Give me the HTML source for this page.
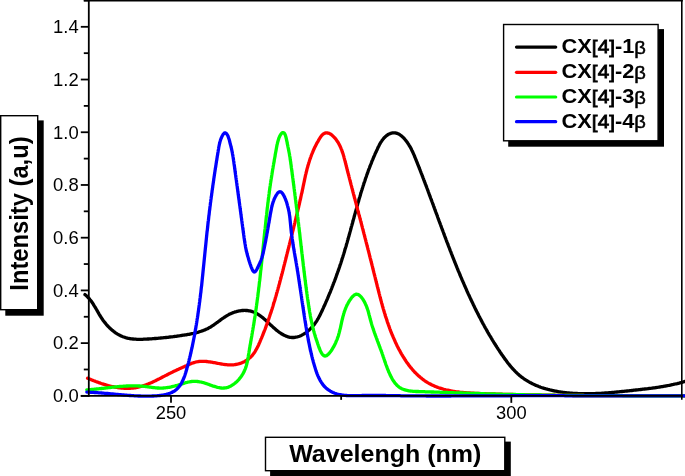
<!DOCTYPE html>
<html><head><meta charset="utf-8"><style>
html,body{margin:0;padding:0;background:#fff;}
svg{display:block;}
text{font-family:"Liberation Sans",sans-serif;}
svg{will-change:transform;}
</style></head><body>
<svg width="685" height="476" viewBox="0 0 685 476">
<rect width="685" height="476" fill="#fff"/>
<path d="M85.0 294.6 L85.8 295.2 L86.5 295.9 L87.2 296.6 L87.9 297.3 L88.6 298.0 L89.3 298.7 L89.9 299.5 L90.5 300.2 L91.1 301.0 L91.7 301.8 L92.2 302.6 L92.8 303.4 L93.3 304.2 L93.8 305.1 L94.3 305.9 L94.9 306.8 L95.4 307.6 L95.9 308.5 L96.4 309.4 L96.9 310.2 L97.4 311.1 L97.9 312.0 L98.4 312.9 L98.9 313.8 L99.4 314.6 L99.9 315.5 L100.5 316.4 L101.0 317.3 L101.6 318.1 L102.2 319.0 L102.8 319.9 L103.4 320.7 L104.0 321.5 L104.7 322.4 L105.4 323.2 L106.0 324.0 L106.7 324.8 L107.4 325.6 L108.1 326.4 L108.9 327.1 L109.6 327.9 L110.4 328.6 L111.1 329.3 L111.9 330.0 L112.7 330.6 L113.5 331.3 L114.3 331.9 L115.1 332.5 L115.9 333.1 L116.8 333.6 L117.6 334.1 L118.5 334.6 L119.3 335.1 L120.2 335.5 L121.1 336.0 L121.9 336.3 L122.8 336.7 L123.7 337.0 L124.6 337.3 L125.5 337.6 L126.4 337.8 L127.4 338.1 L128.3 338.3 L129.2 338.5 L130.1 338.6 L131.1 338.8 L132.0 338.9 L133.0 339.0 L133.9 339.1 L134.9 339.2 L135.8 339.2 L136.8 339.3 L137.8 339.3 L138.8 339.3 L139.7 339.3 L140.7 339.3 L141.7 339.3 L142.7 339.3 L143.7 339.2 L144.7 339.2 L145.7 339.1 L146.7 339.1 L147.7 339.0 L148.7 339.0 L149.7 338.9 L150.7 338.8 L151.7 338.8 L152.7 338.7 L153.7 338.6 L154.7 338.5 L155.8 338.5 L156.8 338.4 L157.8 338.3 L158.8 338.2 L159.8 338.1 L160.8 338.0 L161.9 337.9 L162.9 337.8 L163.9 337.7 L164.9 337.6 L166.0 337.5 L167.0 337.4 L168.0 337.3 L169.0 337.1 L170.0 337.0 L171.0 336.9 L172.1 336.8 L173.1 336.7 L174.1 336.5 L175.1 336.4 L176.1 336.3 L177.1 336.1 L178.1 336.0 L179.1 335.8 L180.1 335.7 L181.1 335.5 L182.1 335.4 L183.1 335.2 L184.1 335.1 L185.1 334.9 L186.1 334.8 L187.0 334.6 L188.0 334.4 L189.0 334.3 L189.9 334.1 L190.9 333.9 L191.9 333.7 L192.8 333.5 L193.8 333.3 L194.7 333.1 L195.7 332.9 L196.6 332.6 L197.5 332.4 L198.5 332.1 L199.4 331.8 L200.3 331.5 L201.2 331.2 L202.1 330.9 L203.0 330.6 L203.9 330.2 L204.8 329.9 L205.7 329.5 L206.6 329.1 L207.5 328.7 L208.4 328.2 L209.2 327.7 L210.1 327.3 L210.9 326.8 L211.8 326.2 L212.6 325.7 L213.5 325.1 L214.3 324.5 L215.2 323.9 L216.0 323.3 L216.8 322.7 L217.7 322.1 L218.5 321.5 L219.3 320.9 L220.2 320.3 L221.0 319.6 L221.8 319.0 L222.7 318.4 L223.6 317.8 L224.4 317.2 L225.3 316.7 L226.2 316.1 L227.0 315.6 L227.9 315.1 L228.8 314.6 L229.8 314.1 L230.7 313.7 L231.6 313.3 L232.5 312.9 L233.5 312.5 L234.4 312.2 L235.4 311.9 L236.4 311.6 L237.3 311.3 L238.3 311.1 L239.3 310.9 L240.2 310.8 L241.2 310.6 L242.2 310.5 L243.1 310.5 L244.1 310.4 L245.1 310.4 L246.0 310.5 L247.0 310.5 L247.9 310.6 L248.8 310.8 L249.8 310.9 L250.7 311.2 L251.6 311.4 L252.5 311.7 L253.4 312.0 L254.3 312.3 L255.2 312.7 L256.0 313.2 L256.9 313.6 L257.7 314.1 L258.5 314.6 L259.3 315.2 L260.2 315.8 L261.0 316.4 L261.8 317.0 L262.6 317.6 L263.4 318.3 L264.1 318.9 L264.9 319.6 L265.7 320.3 L266.5 321.0 L267.3 321.8 L268.0 322.5 L268.8 323.2 L269.6 323.9 L270.4 324.7 L271.2 325.4 L272.0 326.1 L272.8 326.9 L273.5 327.6 L274.4 328.3 L275.2 329.0 L276.0 329.7 L276.8 330.4 L277.6 331.0 L278.5 331.7 L279.3 332.3 L280.2 332.9 L281.1 333.5 L281.9 334.0 L282.8 334.5 L283.7 335.0 L284.6 335.4 L285.5 335.9 L286.4 336.2 L287.3 336.6 L288.2 336.8 L289.2 337.1 L290.1 337.3 L291.0 337.4 L292.0 337.5 L292.9 337.5 L293.9 337.5 L294.8 337.4 L295.8 337.2 L296.7 337.0 L297.7 336.8 L298.6 336.5 L299.5 336.2 L300.5 335.8 L301.4 335.4 L302.3 334.9 L303.2 334.4 L304.0 333.9 L304.9 333.3 L305.7 332.8 L306.5 332.2 L307.3 331.6 L308.1 330.9 L308.9 330.3 L309.6 329.6 L310.3 328.9 L311.0 328.2 L311.7 327.5 L312.4 326.7 L313.0 326.0 L313.7 325.2 L314.3 324.4 L314.9 323.6 L315.4 322.8 L316.0 322.0 L316.6 321.1 L317.1 320.3 L317.6 319.4 L318.1 318.6 L318.6 317.7 L319.1 316.8 L319.6 315.9 L320.0 315.0 L320.5 314.1 L320.9 313.2 L321.3 312.3 L321.8 311.4 L322.2 310.5 L322.6 309.6 L323.0 308.7 L323.4 307.8 L323.8 306.8 L324.3 305.9 L324.7 305.0 L325.1 304.1 L325.5 303.2 L325.9 302.2 L326.3 301.3 L326.7 300.4 L327.1 299.5 L327.5 298.6 L327.9 297.6 L328.3 296.7 L328.6 295.8 L329.0 294.8 L329.4 293.9 L329.8 293.0 L330.2 292.1 L330.6 291.1 L330.9 290.2 L331.3 289.3 L331.7 288.3 L332.0 287.4 L332.4 286.5 L332.8 285.5 L333.1 284.6 L333.5 283.6 L333.8 282.7 L334.2 281.8 L334.6 280.8 L334.9 279.9 L335.3 279.0 L335.6 278.0 L336.0 277.1 L336.3 276.1 L336.6 275.2 L337.0 274.2 L337.3 273.3 L337.6 272.3 L338.0 271.4 L338.3 270.5 L338.6 269.5 L339.0 268.6 L339.3 267.6 L339.6 266.7 L339.9 265.7 L340.2 264.8 L340.6 263.8 L340.9 262.9 L341.2 261.9 L341.5 261.0 L341.8 260.0 L342.1 259.1 L342.4 258.1 L342.7 257.2 L343.0 256.2 L343.3 255.3 L343.6 254.3 L343.9 253.4 L344.2 252.4 L344.5 251.5 L344.7 250.5 L345.0 249.5 L345.3 248.6 L345.6 247.6 L345.9 246.7 L346.2 245.7 L346.4 244.8 L346.7 243.8 L347.0 242.9 L347.3 241.9 L347.5 240.9 L347.8 240.0 L348.1 239.0 L348.3 238.1 L348.6 237.1 L348.9 236.2 L349.1 235.2 L349.4 234.2 L349.7 233.3 L349.9 232.3 L350.2 231.4 L350.5 230.4 L350.7 229.5 L351.0 228.5 L351.2 227.5 L351.5 226.6 L351.8 225.6 L352.0 224.7 L352.3 223.7 L352.6 222.7 L352.8 221.8 L353.1 220.8 L353.3 219.9 L353.6 218.9 L353.9 218.0 L354.1 217.0 L354.4 216.0 L354.6 215.1 L354.9 214.1 L355.2 213.2 L355.4 212.2 L355.7 211.2 L356.0 210.3 L356.2 209.3 L356.5 208.4 L356.8 207.4 L357.0 206.5 L357.3 205.5 L357.6 204.5 L357.8 203.6 L358.1 202.6 L358.4 201.7 L358.7 200.7 L358.9 199.8 L359.2 198.8 L359.5 197.8 L359.8 196.9 L360.1 195.9 L360.4 195.0 L360.6 194.0 L360.9 193.1 L361.2 192.1 L361.5 191.1 L361.8 190.2 L362.1 189.2 L362.4 188.3 L362.7 187.3 L363.0 186.4 L363.3 185.4 L363.6 184.5 L363.9 183.5 L364.2 182.6 L364.6 181.6 L364.9 180.7 L365.2 179.7 L365.5 178.7 L365.8 177.8 L366.2 176.8 L366.5 175.9 L366.8 174.9 L367.2 174.0 L367.5 173.0 L367.9 172.1 L368.2 171.1 L368.5 170.2 L368.9 169.2 L369.3 168.3 L369.6 167.4 L370.0 166.4 L370.3 165.5 L370.7 164.5 L371.1 163.6 L371.5 162.6 L371.8 161.7 L372.2 160.7 L372.6 159.8 L373.0 158.8 L373.4 157.9 L373.8 157.0 L374.2 156.0 L374.6 155.1 L375.0 154.1 L375.4 153.2 L375.9 152.3 L376.3 151.3 L376.7 150.4 L377.2 149.4 L377.6 148.5 L378.0 147.6 L378.5 146.6 L379.0 145.7 L379.4 144.8 L379.9 143.9 L380.4 143.0 L380.9 142.2 L381.5 141.3 L382.0 140.5 L382.6 139.7 L383.2 139.0 L383.8 138.2 L384.5 137.5 L385.2 136.8 L385.9 136.2 L386.6 135.6 L387.4 135.0 L388.2 134.5 L389.0 134.1 L389.9 133.7 L390.7 133.3 L391.6 133.1 L392.5 132.9 L393.4 132.8 L394.4 132.8 L395.3 132.9 L396.2 133.1 L397.1 133.4 L398.0 133.7 L398.8 134.1 L399.7 134.6 L400.5 135.2 L401.3 135.8 L402.1 136.5 L402.9 137.2 L403.6 137.9 L404.3 138.7 L405.0 139.5 L405.7 140.3 L406.4 141.2 L407.0 142.0 L407.6 142.9 L408.2 143.8 L408.8 144.7 L409.3 145.6 L409.9 146.5 L410.4 147.4 L410.9 148.3 L411.4 149.3 L411.8 150.2 L412.3 151.1 L412.7 152.0 L413.1 152.9 L413.5 153.8 L413.9 154.7 L414.3 155.6 L414.6 156.5 L415.0 157.4 L415.4 158.3 L415.8 159.3 L416.1 160.2 L416.5 161.1 L416.9 162.0 L417.2 162.9 L417.6 163.8 L418.0 164.8 L418.3 165.7 L418.7 166.6 L419.1 167.5 L419.4 168.5 L419.8 169.4 L420.2 170.3 L420.5 171.3 L420.9 172.2 L421.2 173.1 L421.6 174.0 L422.0 175.0 L422.3 175.9 L422.7 176.8 L423.0 177.8 L423.4 178.7 L423.7 179.6 L424.1 180.6 L424.4 181.5 L424.8 182.4 L425.1 183.4 L425.5 184.3 L425.9 185.2 L426.2 186.2 L426.6 187.1 L426.9 188.0 L427.3 189.0 L427.6 189.9 L428.0 190.8 L428.3 191.8 L428.6 192.7 L429.0 193.6 L429.3 194.6 L429.7 195.5 L430.0 196.4 L430.4 197.4 L430.7 198.3 L431.1 199.2 L431.4 200.2 L431.8 201.1 L432.1 202.0 L432.5 203.0 L432.8 203.9 L433.2 204.8 L433.5 205.8 L433.8 206.7 L434.2 207.7 L434.5 208.6 L434.9 209.5 L435.2 210.5 L435.6 211.4 L435.9 212.3 L436.3 213.3 L436.6 214.2 L437.0 215.1 L437.3 216.1 L437.6 217.0 L438.0 218.0 L438.3 218.9 L438.7 219.8 L439.0 220.8 L439.4 221.7 L439.7 222.7 L440.1 223.6 L440.4 224.5 L440.8 225.5 L441.1 226.4 L441.5 227.3 L441.8 228.3 L442.2 229.2 L442.5 230.2 L442.9 231.1 L443.2 232.0 L443.6 233.0 L443.9 233.9 L444.3 234.9 L444.6 235.8 L445.0 236.7 L445.3 237.7 L445.7 238.6 L446.0 239.5 L446.4 240.5 L446.7 241.4 L447.1 242.4 L447.5 243.3 L447.8 244.2 L448.2 245.2 L448.5 246.1 L448.9 247.0 L449.3 248.0 L449.6 248.9 L450.0 249.9 L450.3 250.8 L450.7 251.7 L451.1 252.7 L451.4 253.6 L451.8 254.5 L452.2 255.5 L452.5 256.4 L452.9 257.3 L453.3 258.3 L453.6 259.2 L454.0 260.1 L454.4 261.1 L454.7 262.0 L455.1 262.9 L455.5 263.8 L455.9 264.8 L456.2 265.7 L456.6 266.6 L457.0 267.6 L457.4 268.5 L457.7 269.4 L458.1 270.3 L458.5 271.3 L458.9 272.2 L459.3 273.1 L459.7 274.0 L460.0 275.0 L460.4 275.9 L460.8 276.8 L461.2 277.7 L461.6 278.6 L462.0 279.6 L462.4 280.5 L462.8 281.4 L463.2 282.3 L463.6 283.2 L464.0 284.2 L464.4 285.1 L464.8 286.0 L465.2 286.9 L465.6 287.8 L466.0 288.7 L466.4 289.6 L466.8 290.6 L467.2 291.5 L467.6 292.4 L468.0 293.3 L468.4 294.2 L468.9 295.1 L469.3 296.0 L469.7 296.9 L470.1 297.8 L470.5 298.7 L470.9 299.6 L471.4 300.5 L471.8 301.4 L472.2 302.3 L472.7 303.2 L473.1 304.1 L473.5 305.0 L474.0 305.9 L474.4 306.8 L474.8 307.7 L475.3 308.6 L475.7 309.5 L476.1 310.4 L476.6 311.3 L477.0 312.2 L477.5 313.0 L477.9 313.9 L478.4 314.8 L478.8 315.7 L479.3 316.6 L479.8 317.5 L480.2 318.3 L480.7 319.2 L481.1 320.1 L481.6 321.0 L482.1 321.9 L482.5 322.7 L483.0 323.6 L483.5 324.5 L484.0 325.3 L484.4 326.2 L484.9 327.1 L485.4 328.0 L485.9 328.8 L486.4 329.7 L486.9 330.6 L487.3 331.4 L487.8 332.3 L488.3 333.1 L488.8 334.0 L489.3 334.9 L489.8 335.7 L490.4 336.6 L490.9 337.4 L491.4 338.3 L491.9 339.1 L492.4 340.0 L492.9 340.8 L493.5 341.7 L494.0 342.6 L494.5 343.4 L495.0 344.3 L495.6 345.1 L496.1 346.0 L496.7 346.8 L497.2 347.6 L497.8 348.5 L498.3 349.3 L498.9 350.2 L499.4 351.0 L500.0 351.9 L500.6 352.7 L501.1 353.6 L501.7 354.4 L502.3 355.2 L502.9 356.1 L503.5 356.9 L504.1 357.7 L504.6 358.6 L505.2 359.4 L505.9 360.2 L506.5 361.1 L507.1 361.9 L507.7 362.7 L508.3 363.5 L509.0 364.3 L509.6 365.1 L510.2 365.9 L510.9 366.7 L511.6 367.4 L512.2 368.2 L512.9 369.0 L513.6 369.7 L514.3 370.4 L515.0 371.2 L515.7 371.9 L516.4 372.6 L517.1 373.2 L517.8 373.9 L518.6 374.6 L519.3 375.2 L520.1 375.9 L520.9 376.5 L521.6 377.1 L522.4 377.7 L523.2 378.2 L524.0 378.8 L524.8 379.3 L525.6 379.9 L526.5 380.4 L527.3 380.9 L528.1 381.4 L529.0 381.9 L529.8 382.4 L530.7 382.8 L531.6 383.3 L532.4 383.7 L533.3 384.1 L534.2 384.6 L535.1 385.0 L536.0 385.4 L536.9 385.7 L537.8 386.1 L538.7 386.5 L539.7 386.8 L540.6 387.2 L541.5 387.5 L542.5 387.8 L543.4 388.1 L544.3 388.4 L545.3 388.7 L546.3 389.0 L547.2 389.2 L548.2 389.5 L549.1 389.7 L550.1 390.0 L551.1 390.2 L552.1 390.4 L553.0 390.6 L554.0 390.9 L555.0 391.0 L556.0 391.2 L557.0 391.4 L558.0 391.6 L559.0 391.8 L560.0 391.9 L561.0 392.1 L562.0 392.2 L563.0 392.3 L564.0 392.5 L565.0 392.6 L566.0 392.7 L567.0 392.8 L568.0 392.9 L569.0 393.0 L570.0 393.1 L571.0 393.2 L572.0 393.2 L573.0 393.3 L574.0 393.4 L575.0 393.4 L576.0 393.5 L577.0 393.5 L578.0 393.6 L579.0 393.6 L580.0 393.7 L581.0 393.7 L582.1 393.7 L583.1 393.7 L584.1 393.7 L585.1 393.7 L586.1 393.7 L587.1 393.7 L588.1 393.7 L589.1 393.7 L590.1 393.7 L591.1 393.7 L592.1 393.7 L593.1 393.6 L594.1 393.6 L595.1 393.6 L596.1 393.5 L597.1 393.5 L598.1 393.4 L599.1 393.4 L600.1 393.3 L601.1 393.3 L602.1 393.2 L603.1 393.2 L604.1 393.1 L605.1 393.0 L606.1 393.0 L607.1 392.9 L608.1 392.8 L609.1 392.7 L610.1 392.7 L611.1 392.6 L612.1 392.5 L613.1 392.4 L614.0 392.3 L615.0 392.2 L616.0 392.1 L617.0 392.0 L618.0 391.9 L619.0 391.8 L620.0 391.7 L621.0 391.6 L622.0 391.5 L623.0 391.4 L624.0 391.3 L625.0 391.2 L626.0 391.1 L627.0 391.0 L628.0 390.9 L629.0 390.8 L629.9 390.7 L630.9 390.6 L631.9 390.5 L632.9 390.4 L633.9 390.2 L634.9 390.1 L635.9 390.0 L636.9 389.9 L637.9 389.8 L638.9 389.7 L639.9 389.6 L640.8 389.5 L641.8 389.4 L642.8 389.2 L643.8 389.1 L644.8 389.0 L645.8 388.9 L646.8 388.8 L647.8 388.7 L648.7 388.5 L649.7 388.4 L650.7 388.3 L651.7 388.2 L652.7 388.0 L653.7 387.9 L654.7 387.8 L655.6 387.6 L656.6 387.5 L657.6 387.3 L658.6 387.2 L659.6 387.0 L660.6 386.9 L661.5 386.7 L662.5 386.6 L663.5 386.4 L664.5 386.2 L665.5 386.0 L666.4 385.9 L667.4 385.7 L668.4 385.5 L669.4 385.3 L670.4 385.1 L671.3 384.9 L672.3 384.7 L673.3 384.5 L674.3 384.2 L675.3 384.0 L676.2 383.8 L677.2 383.6 L678.2 383.3 L679.2 383.1 L680.1 382.8 L681.1 382.5 L682.1 382.3 L683.1 382.0 L684.1 381.7 L685.0 381.4 L686.0 381.1" stroke="#000" stroke-width="3.3" fill="none" stroke-linejoin="round" stroke-linecap="round"/>
<path d="M87.6 378.2 L88.5 378.6 L89.4 378.9 L90.3 379.3 L91.2 379.7 L92.1 380.1 L93.0 380.4 L93.9 380.8 L94.8 381.1 L95.7 381.5 L96.7 381.8 L97.6 382.2 L98.6 382.5 L99.5 382.9 L100.5 383.2 L101.4 383.5 L102.4 383.8 L103.4 384.1 L104.3 384.4 L105.3 384.7 L106.3 385.0 L107.3 385.3 L108.3 385.6 L109.2 385.8 L110.2 386.1 L111.2 386.3 L112.2 386.5 L113.2 386.7 L114.2 387.0 L115.2 387.1 L116.2 387.3 L117.2 387.5 L118.2 387.6 L119.2 387.8 L120.2 387.9 L121.2 388.0 L122.2 388.1 L123.2 388.2 L124.2 388.3 L125.2 388.3 L126.2 388.3 L127.2 388.3 L128.2 388.3 L129.1 388.3 L130.1 388.3 L131.1 388.2 L132.1 388.1 L133.1 388.0 L134.0 387.9 L135.0 387.8 L136.0 387.6 L136.9 387.4 L137.9 387.3 L138.8 387.0 L139.8 386.8 L140.7 386.5 L141.7 386.3 L142.6 386.0 L143.6 385.7 L144.5 385.4 L145.4 385.0 L146.3 384.7 L147.3 384.4 L148.2 384.0 L149.1 383.6 L150.0 383.2 L151.0 382.8 L151.9 382.4 L152.8 382.0 L153.7 381.6 L154.6 381.1 L155.5 380.7 L156.4 380.2 L157.3 379.8 L158.2 379.3 L159.1 378.9 L160.0 378.4 L160.9 378.0 L161.8 377.5 L162.7 377.0 L163.6 376.6 L164.5 376.1 L165.4 375.6 L166.3 375.2 L167.2 374.7 L168.1 374.2 L169.0 373.8 L169.9 373.3 L170.8 372.9 L171.7 372.4 L172.6 372.0 L173.6 371.5 L174.5 371.1 L175.4 370.7 L176.3 370.3 L177.2 369.8 L178.1 369.4 L179.0 369.0 L179.9 368.6 L180.8 368.1 L181.8 367.7 L182.7 367.3 L183.6 366.9 L184.5 366.5 L185.4 366.1 L186.4 365.7 L187.3 365.2 L188.2 364.8 L189.2 364.4 L190.1 364.0 L191.1 363.6 L192.0 363.2 L193.0 362.9 L193.9 362.6 L194.9 362.3 L195.8 362.0 L196.8 361.8 L197.8 361.7 L198.7 361.5 L199.7 361.4 L200.7 361.4 L201.7 361.3 L202.7 361.3 L203.7 361.3 L204.6 361.4 L205.6 361.4 L206.6 361.5 L207.6 361.6 L208.6 361.8 L209.6 361.9 L210.6 362.0 L211.6 362.2 L212.6 362.4 L213.6 362.6 L214.6 362.7 L215.6 362.9 L216.6 363.1 L217.6 363.3 L218.6 363.5 L219.6 363.7 L220.6 363.9 L221.6 364.0 L222.6 364.2 L223.6 364.3 L224.6 364.5 L225.6 364.6 L226.6 364.7 L227.6 364.8 L228.6 364.8 L229.6 364.9 L230.6 364.9 L231.5 364.9 L232.5 364.9 L233.5 364.8 L234.5 364.7 L235.4 364.5 L236.4 364.4 L237.4 364.2 L238.3 364.0 L239.3 363.7 L240.2 363.4 L241.1 363.1 L242.0 362.7 L242.9 362.3 L243.8 361.9 L244.7 361.5 L245.5 361.0 L246.4 360.5 L247.2 359.9 L248.0 359.4 L248.7 358.8 L249.5 358.1 L250.2 357.5 L250.9 356.8 L251.6 356.1 L252.3 355.3 L252.9 354.6 L253.5 353.8 L254.1 353.0 L254.7 352.1 L255.2 351.3 L255.7 350.4 L256.2 349.5 L256.7 348.6 L257.2 347.7 L257.7 346.8 L258.1 345.9 L258.6 344.9 L259.0 344.0 L259.4 343.0 L259.8 342.1 L260.2 341.1 L260.6 340.2 L261.0 339.2 L261.4 338.3 L261.8 337.3 L262.2 336.4 L262.6 335.4 L263.0 334.5 L263.3 333.5 L263.7 332.6 L264.1 331.7 L264.4 330.7 L264.8 329.8 L265.2 328.8 L265.5 327.9 L265.9 327.0 L266.2 326.0 L266.5 325.1 L266.9 324.2 L267.2 323.2 L267.6 322.3 L267.9 321.4 L268.2 320.4 L268.5 319.5 L268.9 318.6 L269.2 317.6 L269.5 316.7 L269.8 315.7 L270.1 314.8 L270.4 313.9 L270.8 312.9 L271.1 312.0 L271.4 311.1 L271.7 310.1 L272.0 309.2 L272.3 308.2 L272.6 307.3 L272.9 306.4 L273.2 305.4 L273.4 304.5 L273.7 303.5 L274.0 302.6 L274.3 301.6 L274.6 300.7 L274.9 299.7 L275.2 298.8 L275.4 297.8 L275.7 296.9 L276.0 295.9 L276.3 295.0 L276.5 294.0 L276.8 293.1 L277.1 292.1 L277.3 291.1 L277.6 290.2 L277.9 289.2 L278.1 288.3 L278.4 287.3 L278.7 286.4 L278.9 285.4 L279.2 284.4 L279.5 283.5 L279.7 282.5 L280.0 281.5 L280.2 280.6 L280.5 279.6 L280.7 278.7 L281.0 277.7 L281.2 276.7 L281.5 275.8 L281.8 274.8 L282.0 273.8 L282.3 272.9 L282.5 271.9 L282.8 270.9 L283.0 269.9 L283.3 269.0 L283.5 268.0 L283.7 267.0 L284.0 266.1 L284.2 265.1 L284.5 264.1 L284.7 263.1 L285.0 262.2 L285.2 261.2 L285.5 260.2 L285.7 259.3 L286.0 258.3 L286.2 257.3 L286.5 256.3 L286.7 255.4 L286.9 254.4 L287.2 253.4 L287.4 252.4 L287.7 251.5 L287.9 250.5 L288.2 249.5 L288.4 248.5 L288.7 247.6 L288.9 246.6 L289.1 245.6 L289.4 244.6 L289.6 243.6 L289.9 242.7 L290.1 241.7 L290.4 240.7 L290.6 239.7 L290.9 238.8 L291.1 237.8 L291.4 236.8 L291.6 235.8 L291.8 234.9 L292.1 233.9 L292.3 232.9 L292.6 231.9 L292.8 231.0 L293.1 230.0 L293.3 229.0 L293.6 228.0 L293.8 227.0 L294.0 226.1 L294.3 225.1 L294.5 224.1 L294.8 223.1 L295.0 222.2 L295.2 221.2 L295.5 220.2 L295.7 219.2 L295.9 218.3 L296.2 217.3 L296.4 216.3 L296.7 215.3 L296.9 214.4 L297.1 213.4 L297.3 212.4 L297.6 211.5 L297.8 210.5 L298.0 209.5 L298.3 208.5 L298.5 207.6 L298.7 206.6 L298.9 205.6 L299.2 204.7 L299.4 203.7 L299.6 202.7 L299.8 201.8 L300.0 200.8 L300.3 199.8 L300.5 198.9 L300.7 197.9 L300.9 196.9 L301.1 196.0 L301.3 195.0 L301.5 194.0 L301.8 193.1 L302.0 192.1 L302.2 191.1 L302.4 190.2 L302.6 189.2 L302.8 188.3 L303.0 187.3 L303.2 186.3 L303.4 185.4 L303.6 184.4 L303.8 183.5 L304.0 182.5 L304.2 181.6 L304.4 180.6 L304.6 179.6 L304.8 178.7 L305.0 177.7 L305.2 176.8 L305.4 175.8 L305.6 174.9 L305.9 173.9 L306.1 172.9 L306.3 172.0 L306.6 171.0 L306.8 170.1 L307.0 169.1 L307.3 168.1 L307.6 167.2 L307.8 166.2 L308.1 165.2 L308.4 164.3 L308.7 163.3 L309.0 162.3 L309.3 161.4 L309.6 160.4 L309.9 159.4 L310.3 158.4 L310.6 157.5 L311.0 156.5 L311.3 155.5 L311.7 154.5 L312.1 153.5 L312.5 152.6 L312.9 151.6 L313.3 150.6 L313.8 149.6 L314.2 148.6 L314.7 147.6 L315.1 146.7 L315.6 145.7 L316.1 144.7 L316.6 143.7 L317.2 142.7 L317.7 141.8 L318.3 140.8 L318.8 139.8 L319.4 138.8 L320.0 137.9 L320.6 137.0 L321.3 136.1 L321.9 135.3 L322.6 134.6 L323.3 134.0 L324.0 133.6 L324.7 133.2 L325.4 133.0 L326.1 132.9 L326.9 132.9 L327.6 133.0 L328.4 133.2 L329.2 133.4 L329.9 133.8 L330.7 134.2 L331.4 134.7 L332.1 135.3 L332.8 135.9 L333.5 136.6 L334.2 137.3 L334.9 138.0 L335.5 138.8 L336.1 139.6 L336.7 140.4 L337.3 141.2 L337.8 142.1 L338.4 142.9 L338.8 143.8 L339.3 144.7 L339.8 145.6 L340.2 146.5 L340.6 147.4 L341.0 148.3 L341.4 149.3 L341.8 150.2 L342.1 151.2 L342.4 152.2 L342.8 153.2 L343.1 154.1 L343.4 155.1 L343.7 156.1 L344.0 157.1 L344.2 158.1 L344.5 159.1 L344.8 160.2 L345.1 161.2 L345.3 162.2 L345.6 163.2 L345.8 164.2 L346.1 165.2 L346.3 166.2 L346.6 167.2 L346.8 168.2 L347.1 169.2 L347.3 170.2 L347.6 171.2 L347.8 172.2 L348.1 173.2 L348.4 174.2 L348.6 175.2 L348.9 176.1 L349.1 177.1 L349.4 178.1 L349.6 179.1 L349.9 180.1 L350.1 181.0 L350.4 182.0 L350.6 183.0 L350.9 184.0 L351.1 184.9 L351.4 185.9 L351.7 186.9 L351.9 187.9 L352.2 188.8 L352.4 189.8 L352.7 190.8 L352.9 191.7 L353.2 192.7 L353.4 193.6 L353.7 194.6 L353.9 195.6 L354.2 196.5 L354.4 197.5 L354.7 198.4 L355.0 199.4 L355.2 200.4 L355.5 201.3 L355.7 202.3 L356.0 203.2 L356.2 204.2 L356.5 205.1 L356.7 206.1 L357.0 207.1 L357.2 208.0 L357.5 209.0 L357.7 209.9 L358.0 210.9 L358.2 211.8 L358.5 212.8 L358.7 213.7 L359.0 214.7 L359.2 215.7 L359.5 216.6 L359.8 217.6 L360.0 218.5 L360.3 219.5 L360.5 220.4 L360.8 221.4 L361.0 222.3 L361.3 223.3 L361.5 224.3 L361.8 225.2 L362.0 226.2 L362.3 227.1 L362.5 228.1 L362.8 229.1 L363.0 230.0 L363.3 231.0 L363.5 232.0 L363.8 232.9 L364.0 233.9 L364.3 234.8 L364.5 235.8 L364.8 236.8 L365.0 237.7 L365.3 238.7 L365.5 239.7 L365.8 240.6 L366.0 241.6 L366.3 242.6 L366.5 243.6 L366.8 244.5 L367.0 245.5 L367.3 246.5 L367.5 247.4 L367.8 248.4 L368.0 249.4 L368.3 250.3 L368.5 251.3 L368.8 252.3 L369.0 253.3 L369.3 254.2 L369.5 255.2 L369.7 256.2 L370.0 257.1 L370.2 258.1 L370.5 259.1 L370.7 260.1 L371.0 261.0 L371.2 262.0 L371.5 263.0 L371.7 264.0 L372.0 264.9 L372.2 265.9 L372.5 266.9 L372.7 267.9 L372.9 268.8 L373.2 269.8 L373.4 270.8 L373.7 271.8 L373.9 272.7 L374.2 273.7 L374.4 274.7 L374.7 275.7 L374.9 276.6 L375.2 277.6 L375.4 278.6 L375.6 279.6 L375.9 280.5 L376.1 281.5 L376.4 282.5 L376.6 283.5 L376.9 284.4 L377.1 285.4 L377.3 286.4 L377.6 287.3 L377.8 288.3 L378.1 289.3 L378.3 290.3 L378.6 291.2 L378.8 292.2 L379.1 293.2 L379.3 294.1 L379.6 295.1 L379.8 296.1 L380.1 297.1 L380.3 298.0 L380.6 299.0 L380.8 300.0 L381.1 300.9 L381.4 301.9 L381.6 302.9 L381.9 303.8 L382.2 304.8 L382.4 305.7 L382.7 306.7 L383.0 307.7 L383.2 308.6 L383.5 309.6 L383.8 310.5 L384.1 311.5 L384.4 312.5 L384.7 313.4 L385.0 314.4 L385.2 315.3 L385.5 316.3 L385.8 317.2 L386.2 318.2 L386.5 319.1 L386.8 320.1 L387.1 321.0 L387.4 322.0 L387.7 322.9 L388.1 323.8 L388.4 324.8 L388.7 325.7 L389.1 326.7 L389.4 327.6 L389.7 328.5 L390.1 329.5 L390.4 330.4 L390.8 331.3 L391.2 332.3 L391.5 333.2 L391.9 334.1 L392.3 335.0 L392.7 335.9 L393.1 336.9 L393.5 337.8 L393.9 338.7 L394.3 339.6 L394.7 340.5 L395.1 341.4 L395.5 342.4 L395.9 343.3 L396.4 344.2 L396.8 345.1 L397.2 346.0 L397.7 346.9 L398.1 347.8 L398.6 348.7 L399.1 349.6 L399.6 350.4 L400.0 351.3 L400.5 352.2 L401.0 353.1 L401.5 354.0 L402.0 354.8 L402.5 355.7 L403.1 356.6 L403.6 357.4 L404.1 358.3 L404.7 359.1 L405.2 360.0 L405.8 360.8 L406.3 361.6 L406.9 362.5 L407.5 363.3 L408.1 364.1 L408.7 364.9 L409.3 365.7 L409.9 366.5 L410.5 367.3 L411.2 368.0 L411.8 368.8 L412.4 369.5 L413.1 370.3 L413.8 371.0 L414.4 371.8 L415.1 372.5 L415.8 373.2 L416.5 373.9 L417.2 374.6 L417.9 375.2 L418.7 375.9 L419.4 376.5 L420.1 377.2 L420.9 377.8 L421.7 378.4 L422.4 379.0 L423.2 379.6 L424.0 380.2 L424.8 380.8 L425.6 381.3 L426.4 381.8 L427.3 382.4 L428.1 382.9 L429.0 383.4 L429.8 383.8 L430.7 384.3 L431.6 384.8 L432.5 385.2 L433.4 385.6 L434.3 386.0 L435.2 386.4 L436.2 386.8 L437.1 387.1 L438.1 387.5 L439.0 387.8 L440.0 388.1 L441.0 388.4 L441.9 388.7 L442.9 389.0 L443.9 389.3 L444.9 389.5 L445.9 389.8 L446.9 390.0 L447.9 390.2 L448.9 390.4 L449.9 390.6 L450.9 390.8 L451.9 391.0 L452.9 391.2 L453.9 391.3 L454.9 391.5 L455.9 391.7 L456.9 391.8 L457.9 391.9 L458.9 392.0 L459.9 392.2 L460.9 392.3 L461.9 392.4 L462.9 392.5 L463.9 392.6 L464.9 392.7 L465.9 392.7 L466.9 392.8 L467.9 392.9 L468.9 393.0 L469.9 393.0 L470.9 393.1 L471.9 393.1 L472.8 393.2 L473.8 393.2 L474.8 393.3 L475.8 393.3 L476.8 393.4 L477.8 393.4 L478.8 393.5 L479.8 393.5 L480.8 393.6 L481.8 393.6 L482.8 393.6 L483.8 393.7 L484.8 393.7 L485.7 393.7 L486.7 393.8 L487.7 393.8 L488.7 393.8 L489.7 393.9 L490.7 393.9 L491.7 393.9 L492.7 394.0 L493.7 394.0 L494.7 394.0 L495.7 394.1 L496.7 394.1 L497.7 394.1 L498.7 394.2 L499.7 394.2 L500.7 394.2 L501.7 394.2 L502.7 394.3 L503.7 394.3 L504.7 394.3 L505.7 394.4 L506.7 394.4 L507.7 394.4 L508.7 394.4 L509.7 394.5 L510.7 394.5 L511.7 394.5 L512.7 394.5 L513.7 394.6 L514.7 394.6 L515.7 394.6 L516.7 394.6 L517.7 394.6 L518.7 394.7 L519.7 394.7 L520.7 394.7 L521.7 394.7 L522.7 394.7 L523.7 394.8 L524.7 394.8 L525.7 394.8 L526.7 394.8 L527.7 394.8 L528.7 394.9 L529.7 394.9 L530.7 394.9 L531.7 394.9 L532.7 394.9 L533.7 394.9 L534.7 395.0 L535.7 395.0 L536.7 395.0 L537.7 395.0 L538.7 395.0 L539.7 395.0 L540.8 395.1 L541.8 395.1 L542.8 395.1 L543.8 395.1 L544.8 395.1 L545.8 395.1 L546.8 395.1 L547.8 395.2 L548.8 395.2 L549.8 395.2 L550.8 395.2 L551.8 395.2 L552.8 395.2 L553.8 395.2 L554.8 395.2 L555.8 395.3 L556.8 395.3 L557.8 395.3 L558.8 395.3 L559.8 395.3 L560.8 395.3 L561.8 395.3 L562.8 395.3 L563.8 395.4 L564.8 395.4 L565.8 395.4 L566.8 395.4 L567.8 395.4 L568.8 395.4 L569.8 395.4 L570.8 395.4 L571.8 395.4 L572.8 395.5 L573.8 395.5 L574.8 395.5 L575.8 395.5 L576.8 395.5 L577.8 395.5 L578.8 395.5 L579.8 395.5 L580.8 395.5 L581.8 395.5 L582.8 395.5 L583.8 395.5 L584.8 395.6 L585.8 395.6 L586.8 395.6 L587.8 395.6 L588.8 395.6 L589.8 395.6 L590.8 395.6 L591.8 395.6 L592.8 395.6 L593.8 395.6 L594.8 395.6 L595.8 395.6 L596.8 395.6 L597.8 395.6 L598.8 395.6 L599.8 395.6 L600.8 395.6 L601.8 395.6 L602.7 395.7 L603.7 395.7 L604.7 395.7 L605.7 395.7 L606.7 395.7 L607.7 395.7 L608.7 395.7 L609.7 395.7 L610.7 395.7 L611.7 395.7 L612.7 395.7 L613.7 395.7 L614.7 395.7 L615.7 395.7 L616.7 395.7 L617.7 395.7 L618.7 395.7 L619.7 395.7 L620.7 395.7 L621.7 395.7 L622.7 395.7 L623.7 395.7 L624.7 395.7 L625.7 395.7 L626.7 395.7 L627.7 395.7 L628.7 395.7 L629.7 395.7 L630.7 395.7 L631.7 395.7 L632.7 395.7 L633.7 395.7 L634.7 395.7 L635.7 395.7 L636.7 395.7 L637.7 395.7 L638.7 395.7 L639.7 395.7 L640.7 395.7 L641.7 395.7 L642.7 395.7 L643.7 395.7 L644.7 395.7 L645.7 395.7 L646.7 395.7 L647.7 395.7 L648.7 395.7 L649.7 395.7 L650.7 395.7 L651.7 395.7 L652.7 395.7 L653.7 395.7 L654.7 395.7 L655.7 395.7 L656.7 395.7 L657.7 395.7 L658.7 395.7 L659.7 395.7 L660.7 395.7 L661.7 395.7 L662.7 395.7 L663.7 395.7 L664.7 395.7 L665.7 395.7 L666.7 395.7 L667.7 395.7 L668.7 395.7 L669.7 395.7 L670.7 395.7 L671.7 395.7 L672.7 395.7 L673.7 395.7 L674.7 395.7 L675.7 395.7 L676.7 395.7 L677.7 395.7 L678.7 395.7 L679.7 395.7 L680.7 395.7 L681.7 395.8 L682.7 395.8 L683.7 395.8 L684.7 395.8 L685.7 395.8" stroke="#f00" stroke-width="3.3" fill="none" stroke-linejoin="round" stroke-linecap="round"/>
<path d="M86.8 389.9 L87.8 389.8 L88.7 389.8 L89.7 389.7 L90.7 389.6 L91.7 389.5 L92.7 389.4 L93.6 389.3 L94.6 389.2 L95.6 389.1 L96.6 389.0 L97.6 388.9 L98.6 388.8 L99.6 388.7 L100.5 388.6 L101.5 388.5 L102.5 388.4 L103.5 388.3 L104.5 388.1 L105.5 388.0 L106.5 387.9 L107.5 387.8 L108.5 387.7 L109.5 387.6 L110.5 387.5 L111.5 387.3 L112.5 387.2 L113.6 387.1 L114.6 387.0 L115.6 386.9 L116.6 386.8 L117.6 386.7 L118.6 386.6 L119.6 386.5 L120.6 386.4 L121.6 386.4 L122.6 386.3 L123.6 386.2 L124.6 386.2 L125.6 386.1 L126.6 386.0 L127.7 386.0 L128.7 385.9 L129.7 385.9 L130.7 385.9 L131.7 385.9 L132.7 385.9 L133.7 385.9 L134.7 385.9 L135.7 385.9 L136.7 385.9 L137.7 385.9 L138.7 386.0 L139.7 386.0 L140.7 386.1 L141.7 386.2 L142.7 386.2 L143.7 386.3 L144.7 386.4 L145.7 386.5 L146.7 386.7 L147.7 386.8 L148.6 386.9 L149.6 387.1 L150.6 387.2 L151.6 387.3 L152.6 387.5 L153.6 387.6 L154.5 387.7 L155.5 387.8 L156.5 387.9 L157.5 388.0 L158.5 388.0 L159.5 388.1 L160.4 388.1 L161.4 388.1 L162.4 388.1 L163.4 388.0 L164.3 387.9 L165.3 387.8 L166.3 387.7 L167.3 387.6 L168.2 387.4 L169.2 387.3 L170.2 387.1 L171.2 386.9 L172.1 386.6 L173.1 386.4 L174.1 386.2 L175.1 385.9 L176.0 385.6 L177.0 385.4 L178.0 385.1 L178.9 384.8 L179.9 384.5 L180.9 384.2 L181.9 383.9 L182.8 383.6 L183.8 383.3 L184.8 383.0 L185.8 382.7 L186.8 382.5 L187.7 382.2 L188.7 382.0 L189.7 381.8 L190.7 381.6 L191.6 381.5 L192.6 381.4 L193.6 381.3 L194.6 381.3 L195.6 381.3 L196.6 381.4 L197.5 381.5 L198.5 381.6 L199.5 381.8 L200.5 382.0 L201.5 382.2 L202.5 382.5 L203.5 382.7 L204.5 383.0 L205.5 383.3 L206.5 383.7 L207.5 384.0 L208.5 384.3 L209.5 384.7 L210.5 385.1 L211.5 385.4 L212.4 385.8 L213.4 386.1 L214.4 386.4 L215.4 386.7 L216.4 387.0 L217.4 387.3 L218.3 387.5 L219.3 387.7 L220.2 387.9 L221.2 388.0 L222.1 388.1 L223.1 388.1 L224.0 388.0 L224.9 387.9 L225.8 387.8 L226.7 387.6 L227.6 387.4 L228.5 387.1 L229.3 386.7 L230.2 386.3 L231.0 385.9 L231.8 385.4 L232.6 384.9 L233.4 384.4 L234.2 383.8 L235.0 383.2 L235.7 382.6 L236.4 382.0 L237.1 381.3 L237.8 380.6 L238.5 379.9 L239.2 379.1 L239.8 378.3 L240.4 377.6 L241.0 376.8 L241.6 375.9 L242.1 375.1 L242.7 374.2 L243.2 373.4 L243.6 372.5 L244.1 371.6 L244.5 370.7 L244.9 369.7 L245.3 368.8 L245.6 367.9 L246.0 366.9 L246.3 365.9 L246.5 365.0 L246.8 364.0 L247.0 363.0 L247.3 362.0 L247.5 361.0 L247.7 360.0 L247.8 359.0 L248.0 358.0 L248.2 357.0 L248.3 356.0 L248.5 355.0 L248.7 354.0 L248.9 353.0 L249.0 352.0 L249.2 351.0 L249.4 349.9 L249.5 348.9 L249.7 347.9 L249.9 346.9 L250.0 345.9 L250.2 344.9 L250.4 343.9 L250.6 342.9 L250.7 341.9 L250.9 340.9 L251.1 339.9 L251.2 339.0 L251.4 338.0 L251.6 337.0 L251.8 336.0 L251.9 335.0 L252.1 334.0 L252.3 333.0 L252.4 332.0 L252.6 331.0 L252.8 330.0 L252.9 329.0 L253.1 328.0 L253.3 327.0 L253.4 326.1 L253.6 325.1 L253.8 324.1 L253.9 323.1 L254.1 322.1 L254.2 321.1 L254.4 320.1 L254.5 319.1 L254.7 318.1 L254.9 317.2 L255.0 316.2 L255.2 315.2 L255.3 314.2 L255.4 313.2 L255.6 312.2 L255.7 311.3 L255.9 310.3 L256.0 309.3 L256.2 308.3 L256.3 307.3 L256.4 306.3 L256.6 305.3 L256.7 304.4 L256.8 303.4 L257.0 302.4 L257.1 301.4 L257.2 300.4 L257.4 299.4 L257.5 298.5 L257.6 297.5 L257.8 296.5 L257.9 295.5 L258.0 294.5 L258.1 293.5 L258.2 292.6 L258.4 291.6 L258.5 290.6 L258.6 289.6 L258.7 288.6 L258.8 287.6 L259.0 286.6 L259.1 285.7 L259.2 284.7 L259.3 283.7 L259.4 282.7 L259.5 281.7 L259.7 280.7 L259.8 279.7 L259.9 278.7 L260.0 277.8 L260.1 276.8 L260.2 275.8 L260.3 274.8 L260.4 273.8 L260.5 272.8 L260.6 271.8 L260.7 270.8 L260.9 269.8 L261.0 268.9 L261.1 267.9 L261.2 266.9 L261.3 265.9 L261.4 264.9 L261.5 263.9 L261.6 262.9 L261.7 261.9 L261.8 260.9 L261.9 259.9 L262.0 258.9 L262.1 257.9 L262.2 256.9 L262.3 255.9 L262.4 254.9 L262.5 254.0 L262.6 253.0 L262.7 252.0 L262.8 251.0 L262.9 250.0 L263.0 249.0 L263.1 248.0 L263.2 247.0 L263.3 246.0 L263.4 245.0 L263.5 244.0 L263.6 243.0 L263.7 242.0 L263.8 241.0 L263.9 240.0 L264.0 239.0 L264.1 238.0 L264.2 237.0 L264.3 236.0 L264.4 235.0 L264.5 234.0 L264.6 233.0 L264.7 232.0 L264.8 231.0 L264.9 230.0 L265.1 229.0 L265.2 228.0 L265.3 227.0 L265.4 226.0 L265.5 225.0 L265.6 224.0 L265.7 223.0 L265.8 222.0 L265.9 221.0 L266.0 220.0 L266.1 219.0 L266.2 218.0 L266.3 217.0 L266.4 216.0 L266.6 215.0 L266.7 214.0 L266.8 213.0 L266.9 212.0 L267.0 211.0 L267.1 210.0 L267.2 208.9 L267.3 207.9 L267.5 206.9 L267.6 205.9 L267.7 204.9 L267.8 203.9 L267.9 202.9 L268.1 201.9 L268.2 200.9 L268.3 200.0 L268.4 199.0 L268.5 198.0 L268.7 197.0 L268.8 196.0 L268.9 195.0 L269.1 194.0 L269.2 193.0 L269.3 192.0 L269.4 191.1 L269.6 190.1 L269.7 189.1 L269.8 188.1 L270.0 187.2 L270.1 186.2 L270.3 185.2 L270.4 184.3 L270.5 183.3 L270.7 182.3 L270.8 181.4 L271.0 180.4 L271.1 179.5 L271.3 178.5 L271.4 177.6 L271.6 176.6 L271.7 175.7 L271.9 174.7 L272.0 173.8 L272.2 172.8 L272.3 171.8 L272.5 170.9 L272.6 169.9 L272.8 169.0 L273.0 168.0 L273.1 167.0 L273.3 166.0 L273.5 165.0 L273.6 164.1 L273.8 163.1 L274.0 162.1 L274.2 161.1 L274.3 160.0 L274.5 159.0 L274.7 158.0 L274.9 157.0 L275.1 155.9 L275.2 154.9 L275.4 153.8 L275.6 152.7 L275.8 151.7 L276.0 150.6 L276.2 149.5 L276.4 148.4 L276.6 147.2 L276.8 146.1 L277.0 145.0 L277.3 143.9 L277.5 142.9 L277.8 141.8 L278.1 140.8 L278.4 139.8 L278.7 138.8 L279.0 137.8 L279.4 136.9 L279.8 136.1 L280.2 135.3 L280.7 134.5 L281.1 133.9 L281.6 133.4 L282.0 133.0 L282.5 132.7 L283.0 132.6 L283.4 132.6 L283.9 132.9 L284.4 133.3 L284.8 134.0 L285.2 134.8 L285.6 136.0 L286.0 137.3 L286.3 138.7 L286.6 140.2 L287.0 141.7 L287.2 143.2 L287.5 144.6 L287.8 145.9 L288.0 147.1 L288.3 148.3 L288.5 149.4 L288.7 150.4 L288.9 151.5 L289.1 152.5 L289.3 153.5 L289.5 154.5 L289.6 155.5 L289.8 156.5 L290.0 157.4 L290.1 158.4 L290.2 159.4 L290.4 160.3 L290.5 161.3 L290.7 162.3 L290.8 163.2 L290.9 164.2 L291.1 165.1 L291.2 166.1 L291.3 167.0 L291.4 168.0 L291.6 169.0 L291.7 169.9 L291.8 170.9 L292.0 171.9 L292.1 172.8 L292.2 173.8 L292.3 174.8 L292.5 175.8 L292.6 176.7 L292.7 177.7 L292.9 178.7 L293.0 179.7 L293.1 180.6 L293.2 181.6 L293.4 182.6 L293.5 183.6 L293.6 184.6 L293.8 185.6 L293.9 186.6 L294.0 187.5 L294.1 188.5 L294.3 189.5 L294.4 190.5 L294.5 191.5 L294.7 192.5 L294.8 193.5 L294.9 194.5 L295.0 195.5 L295.2 196.5 L295.3 197.5 L295.4 198.5 L295.5 199.5 L295.7 200.5 L295.8 201.5 L295.9 202.5 L296.0 203.5 L296.2 204.5 L296.3 205.5 L296.4 206.5 L296.5 207.5 L296.7 208.5 L296.8 209.5 L296.9 210.5 L297.0 211.5 L297.2 212.5 L297.3 213.5 L297.4 214.5 L297.5 215.5 L297.6 216.5 L297.8 217.5 L297.9 218.5 L298.0 219.5 L298.1 220.5 L298.2 221.5 L298.4 222.5 L298.5 223.5 L298.6 224.5 L298.7 225.5 L298.8 226.5 L299.0 227.5 L299.1 228.5 L299.2 229.5 L299.3 230.5 L299.4 231.5 L299.5 232.4 L299.7 233.4 L299.8 234.4 L299.9 235.4 L300.0 236.4 L300.1 237.4 L300.2 238.4 L300.3 239.4 L300.5 240.4 L300.6 241.4 L300.7 242.4 L300.8 243.3 L300.9 244.3 L301.0 245.3 L301.1 246.3 L301.3 247.3 L301.4 248.3 L301.5 249.3 L301.6 250.3 L301.7 251.2 L301.8 252.2 L301.9 253.2 L302.1 254.2 L302.2 255.2 L302.3 256.2 L302.4 257.1 L302.5 258.1 L302.6 259.1 L302.7 260.1 L302.9 261.1 L303.0 262.1 L303.1 263.1 L303.2 264.0 L303.3 265.0 L303.4 266.0 L303.6 267.0 L303.7 268.0 L303.8 269.0 L303.9 269.9 L304.0 270.9 L304.1 271.9 L304.3 272.9 L304.4 273.9 L304.5 274.9 L304.6 275.9 L304.7 276.9 L304.9 277.8 L305.0 278.8 L305.1 279.8 L305.2 280.8 L305.4 281.8 L305.5 282.8 L305.6 283.8 L305.7 284.8 L305.9 285.8 L306.0 286.8 L306.1 287.8 L306.3 288.8 L306.4 289.7 L306.5 290.7 L306.7 291.7 L306.8 292.7 L306.9 293.7 L307.1 294.7 L307.2 295.7 L307.3 296.7 L307.5 297.7 L307.6 298.7 L307.8 299.8 L307.9 300.8 L308.1 301.8 L308.2 302.8 L308.4 303.8 L308.5 304.8 L308.7 305.8 L308.8 306.8 L309.0 307.8 L309.1 308.8 L309.3 309.8 L309.5 310.8 L309.6 311.7 L309.8 312.7 L310.0 313.7 L310.2 314.7 L310.3 315.7 L310.5 316.7 L310.7 317.6 L310.9 318.6 L311.1 319.6 L311.3 320.6 L311.5 321.5 L311.7 322.5 L311.9 323.4 L312.1 324.4 L312.3 325.3 L312.6 326.3 L312.8 327.2 L313.0 328.2 L313.2 329.1 L313.5 330.0 L313.7 330.9 L314.0 331.8 L314.2 332.7 L314.5 333.7 L314.8 334.6 L315.0 335.5 L315.3 336.5 L315.6 337.4 L315.9 338.4 L316.2 339.4 L316.6 340.4 L316.9 341.4 L317.3 342.4 L317.6 343.5 L318.0 344.6 L318.4 345.8 L318.8 346.9 L319.2 348.0 L319.7 349.2 L320.1 350.2 L320.6 351.3 L321.1 352.2 L321.6 353.1 L322.1 353.9 L322.6 354.6 L323.2 355.2 L323.8 355.6 L324.4 355.9 L325.0 356.0 L325.7 355.9 L326.4 355.7 L327.1 355.3 L327.7 354.8 L328.4 354.2 L329.1 353.4 L329.8 352.6 L330.5 351.7 L331.2 350.8 L331.9 349.8 L332.5 348.7 L333.1 347.7 L333.7 346.7 L334.2 345.7 L334.7 344.7 L335.2 343.7 L335.7 342.7 L336.1 341.7 L336.5 340.7 L336.9 339.8 L337.3 338.8 L337.6 337.8 L338.0 336.9 L338.3 336.0 L338.6 335.0 L338.8 334.1 L339.1 333.1 L339.3 332.2 L339.6 331.3 L339.8 330.3 L340.0 329.4 L340.3 328.5 L340.5 327.5 L340.7 326.6 L340.9 325.6 L341.1 324.7 L341.3 323.8 L341.5 322.8 L341.7 321.9 L341.9 320.9 L342.1 320.0 L342.4 319.0 L342.6 318.1 L342.8 317.1 L343.1 316.1 L343.4 315.2 L343.6 314.2 L343.9 313.3 L344.2 312.3 L344.5 311.3 L344.9 310.4 L345.2 309.4 L345.6 308.5 L346.0 307.5 L346.4 306.5 L346.8 305.6 L347.3 304.6 L347.8 303.7 L348.3 302.7 L348.8 301.8 L349.4 300.8 L350.0 299.9 L350.7 299.0 L351.3 298.1 L352.0 297.2 L352.7 296.5 L353.4 295.8 L354.2 295.2 L354.9 294.7 L355.7 294.4 L356.4 294.2 L357.2 294.3 L357.9 294.4 L358.7 294.8 L359.4 295.3 L360.1 295.9 L360.8 296.6 L361.5 297.4 L362.2 298.3 L362.8 299.2 L363.4 300.2 L364.0 301.2 L364.6 302.2 L365.1 303.2 L365.5 304.2 L366.0 305.2 L366.4 306.2 L366.8 307.2 L367.1 308.2 L367.5 309.1 L367.8 310.1 L368.1 311.1 L368.4 312.0 L368.6 313.0 L368.9 313.9 L369.1 314.9 L369.4 315.8 L369.6 316.8 L369.9 317.7 L370.1 318.7 L370.4 319.6 L370.6 320.6 L370.9 321.5 L371.2 322.5 L371.4 323.4 L371.7 324.4 L372.0 325.3 L372.3 326.3 L372.6 327.2 L372.9 328.1 L373.2 329.1 L373.6 330.0 L373.9 331.0 L374.2 331.9 L374.5 332.8 L374.9 333.8 L375.2 334.7 L375.5 335.7 L375.9 336.6 L376.2 337.5 L376.6 338.5 L376.9 339.4 L377.3 340.4 L377.6 341.3 L378.0 342.2 L378.3 343.2 L378.7 344.1 L379.0 345.1 L379.4 346.0 L379.7 346.9 L380.1 347.9 L380.4 348.8 L380.8 349.7 L381.1 350.7 L381.5 351.6 L381.8 352.6 L382.1 353.5 L382.5 354.5 L382.8 355.4 L383.1 356.3 L383.4 357.3 L383.8 358.2 L384.1 359.2 L384.4 360.1 L384.7 361.0 L385.0 362.0 L385.4 362.9 L385.7 363.9 L386.0 364.8 L386.4 365.7 L386.7 366.7 L387.1 367.6 L387.4 368.6 L387.8 369.5 L388.2 370.4 L388.5 371.4 L388.9 372.3 L389.4 373.2 L389.8 374.1 L390.2 375.1 L390.7 376.0 L391.1 376.9 L391.6 377.8 L392.1 378.7 L392.6 379.6 L393.2 380.5 L393.7 381.3 L394.3 382.1 L394.9 382.9 L395.5 383.7 L396.2 384.4 L396.8 385.1 L397.5 385.8 L398.3 386.4 L399.0 387.0 L399.8 387.6 L400.6 388.1 L401.4 388.5 L402.3 388.9 L403.2 389.3 L404.1 389.6 L405.0 389.9 L405.9 390.2 L406.9 390.4 L407.9 390.6 L408.9 390.8 L409.9 391.0 L410.9 391.1 L411.9 391.2 L413.0 391.3 L414.0 391.3 L415.1 391.4 L416.1 391.5 L417.2 391.5 L418.2 391.5 L419.2 391.6 L420.3 391.6 L421.3 391.6 L422.3 391.7 L423.4 391.7 L424.4 391.7 L425.4 391.8 L426.4 391.8 L427.4 391.8 L428.4 391.9 L429.4 391.9 L430.4 391.9 L431.4 392.0 L432.4 392.0 L433.4 392.0 L434.4 392.1 L435.4 392.1 L436.3 392.1 L437.3 392.2 L438.3 392.2 L439.3 392.2 L440.3 392.3 L441.3 392.3 L442.3 392.4 L443.3 392.4 L444.3 392.4 L445.3 392.5 L446.2 392.5 L447.2 392.5 L448.2 392.6 L449.2 392.6 L450.2 392.6 L451.2 392.7 L452.2 392.7 L453.2 392.7 L454.2 392.8 L455.2 392.8 L456.2 392.8 L457.2 392.9 L458.2 392.9 L459.2 392.9 L460.2 393.0 L461.1 393.0 L462.1 393.0 L463.1 393.1 L464.1 393.1 L465.1 393.1 L466.1 393.2 L467.1 393.2 L468.1 393.2 L469.1 393.3 L470.1 393.3 L471.1 393.3 L472.1 393.4 L473.1 393.4 L474.1 393.4 L475.1 393.5 L476.1 393.5 L477.1 393.5 L478.1 393.5 L479.1 393.6 L480.1 393.6 L481.1 393.6 L482.1 393.7 L483.1 393.7 L484.1 393.7 L485.1 393.8 L486.1 393.8 L487.1 393.8 L488.1 393.8 L489.1 393.9 L490.1 393.9 L491.1 393.9 L492.1 394.0 L493.1 394.0 L494.1 394.0 L495.1 394.0 L496.1 394.1 L497.1 394.1 L498.1 394.1 L499.1 394.1 L500.1 394.2 L501.1 394.2 L502.1 394.2 L503.1 394.3 L504.1 394.3 L505.1 394.3 L506.1 394.3 L507.1 394.4 L508.1 394.4 L509.1 394.4 L510.1 394.4 L511.2 394.5 L512.2 394.5 L513.2 394.5 L514.2 394.5 L515.2 394.5 L516.2 394.6 L517.2 394.6 L518.2 394.6 L519.2 394.6 L520.2 394.7 L521.2 394.7 L522.2 394.7 L523.2 394.7 L524.2 394.7 L525.2 394.8 L526.2 394.8 L527.2 394.8 L528.2 394.8 L529.2 394.8 L530.2 394.9 L531.2 394.9 L532.2 394.9 L533.2 394.9 L534.2 394.9 L535.2 394.9 L536.2 395.0 L537.2 395.0 L538.2 395.0 L539.2 395.0 L540.2 395.0 L541.2 395.0 L542.2 395.1 L543.2 395.1 L544.2 395.1 L545.2 395.1 L546.2 395.1 L547.2 395.1 L548.2 395.2 L549.2 395.2 L550.2 395.2 L551.2 395.2 L552.2 395.2 L553.2 395.2 L554.2 395.2 L555.2 395.3 L556.2 395.3 L557.2 395.3 L558.2 395.3 L559.2 395.3 L560.2 395.3 L561.2 395.3 L562.2 395.3 L563.2 395.4 L564.2 395.4 L565.2 395.4 L566.2 395.4 L567.2 395.4 L568.2 395.4 L569.2 395.4 L570.2 395.4 L571.2 395.4 L572.2 395.4 L573.2 395.5 L574.2 395.5 L575.2 395.5 L576.2 395.5 L577.2 395.5 L578.2 395.5 L579.2 395.5 L580.2 395.5 L581.2 395.5 L582.2 395.5 L583.2 395.5 L584.2 395.6 L585.2 395.6 L586.2 395.6 L587.2 395.6 L588.1 395.6 L589.1 395.6 L590.1 395.6 L591.1 395.6 L592.1 395.6 L593.1 395.6 L594.1 395.6 L595.1 395.6 L596.1 395.6 L597.1 395.6 L598.1 395.6 L599.1 395.7 L600.1 395.7 L601.1 395.7 L602.1 395.7 L603.1 395.7 L604.1 395.7 L605.1 395.7 L606.1 395.7 L607.1 395.7 L608.1 395.7 L609.1 395.7 L610.1 395.7 L611.1 395.7 L612.1 395.7 L613.1 395.7 L614.1 395.7 L615.1 395.7 L616.1 395.7 L617.1 395.7 L618.1 395.7 L619.1 395.7 L620.1 395.7 L621.1 395.7 L622.1 395.7 L623.1 395.8 L624.1 395.8 L625.1 395.8 L626.1 395.8 L627.1 395.8 L628.1 395.8 L629.1 395.8 L630.1 395.8 L631.1 395.8 L632.1 395.8 L633.1 395.8 L634.1 395.8 L635.1 395.8 L636.1 395.8 L637.1 395.8 L638.1 395.8 L639.1 395.8 L640.1 395.8 L641.1 395.8 L642.1 395.8 L643.1 395.8 L644.1 395.8 L645.1 395.8 L646.1 395.8 L647.1 395.8 L648.1 395.8 L649.1 395.8 L650.1 395.8 L651.1 395.8 L652.1 395.8 L653.1 395.8 L654.1 395.8 L655.1 395.8 L656.1 395.8 L657.1 395.8 L658.1 395.8 L659.1 395.8 L660.1 395.8 L661.1 395.8 L662.1 395.8 L663.1 395.8 L664.1 395.8 L665.1 395.8 L666.1 395.8 L667.1 395.8 L668.1 395.8 L669.1 395.8 L670.1 395.8 L671.1 395.8 L672.1 395.8 L673.1 395.8 L674.1 395.8 L675.1 395.8 L676.1 395.8 L677.1 395.8 L678.1 395.8 L679.1 395.8 L680.1 395.8 L681.1 395.8 L682.1 395.8 L683.1 395.8 L684.1 395.8 L685.1 395.8" stroke="#0f0" stroke-width="3.3" fill="none" stroke-linejoin="round" stroke-linecap="round"/>
<path d="M86.8 392.1 L87.8 392.1 L88.7 392.2 L89.7 392.2 L90.7 392.3 L91.7 392.3 L92.7 392.4 L93.6 392.4 L94.6 392.5 L95.6 392.5 L96.6 392.6 L97.6 392.7 L98.7 392.8 L99.7 392.8 L100.7 392.9 L101.7 393.0 L102.7 393.1 L103.7 393.2 L104.7 393.3 L105.8 393.3 L106.8 393.4 L107.8 393.5 L108.8 393.6 L109.8 393.7 L110.8 393.8 L111.8 393.9 L112.9 394.0 L113.9 394.1 L114.9 394.2 L115.9 394.3 L116.9 394.4 L117.9 394.5 L118.9 394.6 L119.9 394.6 L120.9 394.7 L121.8 394.8 L122.8 394.9 L123.8 395.0 L124.8 395.1 L125.7 395.2 L126.7 395.2 L127.6 395.3 L128.6 395.4 L129.6 395.5 L130.5 395.5 L131.5 395.6 L132.4 395.7 L133.4 395.7 L134.4 395.8 L135.3 395.8 L136.3 395.9 L137.2 395.9 L138.2 396.0 L139.2 396.0 L140.2 396.0 L141.2 396.1 L142.1 396.1 L143.1 396.1 L144.1 396.1 L145.2 396.1 L146.2 396.1 L147.2 396.1 L148.2 396.1 L149.3 396.1 L150.3 396.1 L151.4 396.1 L152.4 396.0 L153.5 396.0 L154.6 395.9 L155.7 395.9 L156.7 395.8 L157.8 395.7 L158.9 395.6 L160.0 395.5 L161.0 395.4 L162.1 395.2 L163.1 395.0 L164.1 394.8 L165.2 394.6 L166.2 394.4 L167.2 394.1 L168.1 393.9 L169.1 393.5 L170.0 393.2 L170.9 392.8 L171.8 392.5 L172.6 392.0 L173.5 391.6 L174.3 391.1 L175.0 390.6 L175.8 390.0 L176.5 389.5 L177.1 388.8 L177.8 388.2 L178.4 387.5 L179.0 386.8 L179.5 386.1 L180.1 385.4 L180.6 384.6 L181.1 383.8 L181.6 383.0 L182.0 382.1 L182.4 381.3 L182.8 380.4 L183.2 379.5 L183.6 378.6 L184.0 377.7 L184.3 376.8 L184.7 375.8 L185.0 374.9 L185.3 373.9 L185.6 373.0 L185.9 372.0 L186.2 371.0 L186.5 370.0 L186.8 369.0 L187.0 368.0 L187.3 367.1 L187.6 366.1 L187.8 365.1 L188.1 364.1 L188.4 363.1 L188.6 362.1 L188.9 361.1 L189.1 360.1 L189.3 359.1 L189.6 358.1 L189.8 357.1 L190.1 356.2 L190.3 355.2 L190.5 354.2 L190.8 353.2 L191.0 352.2 L191.2 351.2 L191.4 350.2 L191.6 349.2 L191.9 348.2 L192.1 347.2 L192.3 346.3 L192.5 345.3 L192.7 344.3 L192.9 343.3 L193.1 342.3 L193.3 341.3 L193.5 340.3 L193.7 339.3 L193.9 338.3 L194.1 337.3 L194.3 336.3 L194.5 335.4 L194.6 334.4 L194.8 333.4 L195.0 332.4 L195.2 331.4 L195.3 330.4 L195.5 329.4 L195.7 328.4 L195.9 327.4 L196.0 326.4 L196.2 325.5 L196.4 324.5 L196.5 323.5 L196.7 322.5 L196.8 321.5 L197.0 320.5 L197.1 319.5 L197.3 318.5 L197.5 317.5 L197.6 316.5 L197.8 315.6 L197.9 314.6 L198.0 313.6 L198.2 312.6 L198.3 311.6 L198.5 310.6 L198.6 309.6 L198.7 308.6 L198.9 307.6 L199.0 306.6 L199.1 305.7 L199.3 304.7 L199.4 303.7 L199.5 302.7 L199.7 301.7 L199.8 300.7 L199.9 299.7 L200.0 298.7 L200.2 297.7 L200.3 296.7 L200.4 295.8 L200.5 294.8 L200.6 293.8 L200.8 292.8 L200.9 291.8 L201.0 290.8 L201.1 289.8 L201.2 288.8 L201.3 287.8 L201.4 286.8 L201.6 285.9 L201.7 284.9 L201.8 283.9 L201.9 282.9 L202.0 281.9 L202.1 280.9 L202.2 279.9 L202.3 278.9 L202.4 277.9 L202.5 276.9 L202.6 276.0 L202.7 275.0 L202.8 274.0 L202.9 273.0 L203.0 272.0 L203.1 271.0 L203.2 270.0 L203.3 269.0 L203.4 268.0 L203.5 267.0 L203.6 266.1 L203.7 265.1 L203.8 264.1 L203.9 263.1 L204.0 262.1 L204.1 261.1 L204.2 260.1 L204.3 259.1 L204.4 258.1 L204.5 257.1 L204.6 256.2 L204.7 255.2 L204.8 254.2 L204.9 253.2 L205.0 252.2 L205.1 251.2 L205.2 250.2 L205.3 249.2 L205.4 248.2 L205.5 247.3 L205.6 246.3 L205.7 245.3 L205.8 244.3 L205.9 243.3 L206.0 242.3 L206.1 241.3 L206.2 240.3 L206.3 239.3 L206.4 238.3 L206.5 237.4 L206.6 236.4 L206.7 235.4 L206.8 234.4 L206.9 233.4 L207.0 232.4 L207.1 231.4 L207.3 230.4 L207.4 229.4 L207.5 228.4 L207.6 227.5 L207.7 226.5 L207.8 225.5 L207.9 224.5 L208.0 223.5 L208.1 222.5 L208.2 221.5 L208.4 220.5 L208.5 219.5 L208.6 218.6 L208.7 217.6 L208.8 216.6 L208.9 215.6 L209.1 214.6 L209.2 213.6 L209.3 212.6 L209.4 211.6 L209.5 210.6 L209.7 209.6 L209.8 208.6 L209.9 207.7 L210.0 206.7 L210.2 205.7 L210.3 204.7 L210.4 203.7 L210.5 202.7 L210.7 201.7 L210.8 200.7 L210.9 199.7 L211.1 198.7 L211.2 197.7 L211.3 196.8 L211.5 195.8 L211.6 194.8 L211.7 193.8 L211.9 192.8 L212.0 191.8 L212.1 190.8 L212.3 189.8 L212.4 188.8 L212.6 187.8 L212.7 186.8 L212.8 185.8 L213.0 184.8 L213.1 183.8 L213.3 182.8 L213.4 181.8 L213.6 180.8 L213.7 179.8 L213.8 178.8 L214.0 177.8 L214.1 176.8 L214.3 175.8 L214.4 174.8 L214.6 173.8 L214.7 172.8 L214.9 171.8 L215.0 170.8 L215.2 169.8 L215.3 168.8 L215.5 167.8 L215.7 166.8 L215.8 165.8 L216.0 164.8 L216.1 163.8 L216.3 162.8 L216.4 161.8 L216.6 160.8 L216.8 159.8 L216.9 158.8 L217.1 157.8 L217.2 156.8 L217.4 155.8 L217.6 154.8 L217.7 153.8 L217.9 152.7 L218.1 151.7 L218.2 150.7 L218.4 149.7 L218.6 148.7 L218.7 147.7 L218.9 146.7 L219.1 145.7 L219.3 144.7 L219.5 143.7 L219.8 142.7 L220.0 141.7 L220.3 140.8 L220.6 139.8 L220.9 138.9 L221.3 138.0 L221.7 137.1 L222.1 136.2 L222.6 135.3 L223.0 134.5 L223.6 133.8 L224.1 133.3 L224.6 132.9 L225.2 132.9 L225.7 133.1 L226.3 133.5 L226.8 134.0 L227.3 134.8 L227.8 135.7 L228.2 136.7 L228.6 137.9 L229.0 139.1 L229.4 140.3 L229.7 141.5 L230.0 142.8 L230.3 144.0 L230.6 145.1 L230.9 146.2 L231.1 147.3 L231.4 148.3 L231.6 149.2 L231.8 150.2 L232.0 151.1 L232.2 152.1 L232.4 153.0 L232.5 154.0 L232.7 154.9 L232.9 155.9 L233.0 156.8 L233.2 157.8 L233.3 158.8 L233.5 159.8 L233.6 160.7 L233.8 161.7 L233.9 162.7 L234.0 163.7 L234.2 164.7 L234.3 165.7 L234.5 166.6 L234.6 167.6 L234.7 168.6 L234.9 169.6 L235.0 170.6 L235.1 171.6 L235.3 172.6 L235.4 173.6 L235.5 174.5 L235.7 175.5 L235.8 176.5 L235.9 177.5 L236.1 178.5 L236.2 179.5 L236.4 180.5 L236.5 181.5 L236.6 182.5 L236.8 183.5 L236.9 184.5 L237.0 185.5 L237.2 186.5 L237.3 187.4 L237.4 188.4 L237.6 189.4 L237.7 190.4 L237.8 191.4 L238.0 192.4 L238.1 193.4 L238.2 194.4 L238.4 195.4 L238.5 196.4 L238.6 197.4 L238.8 198.4 L238.9 199.4 L239.1 200.4 L239.2 201.4 L239.3 202.4 L239.5 203.4 L239.6 204.4 L239.7 205.3 L239.9 206.3 L240.0 207.3 L240.1 208.3 L240.3 209.3 L240.4 210.3 L240.5 211.3 L240.7 212.3 L240.8 213.3 L240.9 214.3 L241.1 215.3 L241.2 216.3 L241.3 217.3 L241.5 218.3 L241.6 219.2 L241.7 220.2 L241.9 221.2 L242.0 222.2 L242.1 223.2 L242.3 224.2 L242.4 225.2 L242.5 226.2 L242.7 227.2 L242.8 228.1 L242.9 229.1 L243.1 230.1 L243.2 231.1 L243.3 232.1 L243.5 233.1 L243.6 234.0 L243.7 235.0 L243.9 236.0 L244.0 237.0 L244.1 238.0 L244.3 238.9 L244.4 239.9 L244.6 240.9 L244.7 241.9 L244.9 242.9 L245.0 243.8 L245.2 244.8 L245.4 245.8 L245.5 246.7 L245.7 247.7 L245.9 248.7 L246.1 249.6 L246.3 250.6 L246.5 251.6 L246.8 252.5 L247.0 253.5 L247.3 254.5 L247.5 255.5 L247.8 256.4 L248.1 257.4 L248.4 258.4 L248.7 259.5 L249.0 260.5 L249.3 261.5 L249.7 262.6 L250.0 263.7 L250.4 264.8 L250.8 265.9 L251.2 267.1 L251.7 268.2 L252.1 269.2 L252.6 270.1 L253.0 270.9 L253.5 271.5 L254.0 271.9 L254.5 272.0 L255.0 271.8 L255.5 271.3 L256.0 270.7 L256.5 269.9 L257.0 269.0 L257.5 268.0 L258.0 267.0 L258.4 266.0 L258.9 265.0 L259.4 264.0 L259.8 263.0 L260.3 262.0 L260.7 261.0 L261.1 260.0 L261.4 259.0 L261.8 258.0 L262.1 257.0 L262.4 256.0 L262.7 255.0 L262.9 254.0 L263.2 253.0 L263.4 252.0 L263.6 251.0 L263.8 250.0 L264.0 249.1 L264.2 248.1 L264.4 247.1 L264.6 246.1 L264.8 245.1 L265.0 244.2 L265.2 243.2 L265.4 242.2 L265.6 241.3 L265.8 240.3 L265.9 239.3 L266.1 238.4 L266.3 237.4 L266.5 236.4 L266.7 235.5 L266.8 234.5 L267.0 233.5 L267.2 232.6 L267.4 231.6 L267.5 230.6 L267.7 229.7 L267.9 228.7 L268.0 227.7 L268.2 226.8 L268.4 225.8 L268.5 224.8 L268.7 223.8 L268.9 222.9 L269.1 221.9 L269.2 220.9 L269.4 219.9 L269.6 218.9 L269.7 217.9 L269.9 216.9 L270.1 215.9 L270.2 214.9 L270.4 213.9 L270.6 212.9 L270.8 211.9 L271.0 210.9 L271.2 209.9 L271.4 208.8 L271.6 207.8 L271.8 206.8 L272.1 205.8 L272.3 204.8 L272.6 203.8 L272.9 202.8 L273.2 201.8 L273.6 200.8 L273.9 199.9 L274.3 198.9 L274.8 198.0 L275.2 197.0 L275.7 196.1 L276.2 195.2 L276.8 194.3 L277.3 193.5 L277.9 192.8 L278.6 192.2 L279.2 191.9 L279.8 191.7 L280.4 191.8 L281.1 192.1 L281.7 192.6 L282.3 193.2 L282.9 194.0 L283.4 194.9 L284.0 195.9 L284.5 196.9 L284.9 197.9 L285.4 199.0 L285.8 200.1 L286.2 201.2 L286.6 202.3 L286.9 203.4 L287.2 204.5 L287.5 205.6 L287.8 206.6 L288.0 207.6 L288.3 208.5 L288.5 209.5 L288.7 210.4 L288.9 211.3 L289.1 212.3 L289.2 213.2 L289.4 214.1 L289.5 215.1 L289.7 216.0 L289.8 217.0 L289.9 217.9 L290.0 218.9 L290.1 219.9 L290.2 220.9 L290.3 221.9 L290.4 222.9 L290.5 223.9 L290.6 224.9 L290.7 225.9 L290.8 227.0 L290.9 228.0 L291.0 229.0 L291.1 230.0 L291.2 231.0 L291.3 232.0 L291.4 233.0 L291.6 234.0 L291.7 235.0 L291.8 236.0 L292.0 237.0 L292.1 238.0 L292.2 239.0 L292.4 240.0 L292.5 240.9 L292.7 241.9 L292.8 242.9 L293.0 243.9 L293.1 244.9 L293.3 245.9 L293.4 246.9 L293.6 247.8 L293.8 248.8 L293.9 249.8 L294.1 250.8 L294.3 251.8 L294.4 252.7 L294.6 253.7 L294.8 254.7 L294.9 255.7 L295.1 256.6 L295.3 257.6 L295.5 258.6 L295.6 259.6 L295.8 260.6 L296.0 261.5 L296.1 262.5 L296.3 263.5 L296.5 264.5 L296.6 265.5 L296.8 266.5 L297.0 267.4 L297.1 268.4 L297.3 269.4 L297.4 270.4 L297.6 271.4 L297.8 272.4 L297.9 273.4 L298.1 274.3 L298.2 275.3 L298.4 276.3 L298.5 277.3 L298.7 278.3 L298.8 279.3 L299.0 280.3 L299.1 281.3 L299.3 282.3 L299.4 283.3 L299.6 284.3 L299.7 285.3 L299.9 286.3 L300.0 287.3 L300.2 288.2 L300.3 289.2 L300.5 290.2 L300.6 291.2 L300.8 292.2 L300.9 293.2 L301.1 294.2 L301.2 295.2 L301.4 296.2 L301.5 297.2 L301.6 298.2 L301.8 299.2 L301.9 300.2 L302.1 301.2 L302.2 302.2 L302.4 303.2 L302.5 304.2 L302.7 305.2 L302.8 306.1 L303.0 307.1 L303.1 308.1 L303.3 309.1 L303.4 310.1 L303.6 311.1 L303.7 312.1 L303.9 313.1 L304.0 314.1 L304.2 315.0 L304.3 316.0 L304.5 317.0 L304.6 318.0 L304.8 319.0 L304.9 320.0 L305.1 321.0 L305.2 321.9 L305.4 322.9 L305.6 323.9 L305.7 324.9 L305.9 325.9 L306.0 326.8 L306.2 327.8 L306.4 328.8 L306.5 329.7 L306.7 330.7 L306.9 331.7 L307.0 332.7 L307.2 333.6 L307.4 334.6 L307.5 335.6 L307.7 336.5 L307.9 337.5 L308.1 338.5 L308.2 339.4 L308.4 340.4 L308.6 341.4 L308.8 342.3 L309.0 343.3 L309.2 344.3 L309.4 345.2 L309.6 346.2 L309.8 347.2 L310.0 348.1 L310.2 349.1 L310.4 350.1 L310.6 351.1 L310.9 352.0 L311.1 353.0 L311.3 354.0 L311.6 355.0 L311.8 356.0 L312.0 356.9 L312.3 357.9 L312.5 358.9 L312.8 359.9 L313.1 360.9 L313.3 361.9 L313.6 362.9 L313.9 363.9 L314.2 364.9 L314.5 365.9 L314.8 366.9 L315.1 367.9 L315.4 368.9 L315.7 369.9 L316.0 370.9 L316.4 371.9 L316.7 372.9 L317.1 373.9 L317.5 374.8 L317.9 375.8 L318.3 376.7 L318.7 377.6 L319.2 378.5 L319.6 379.4 L320.1 380.3 L320.6 381.1 L321.1 382.0 L321.6 382.8 L322.2 383.6 L322.7 384.4 L323.3 385.1 L323.9 385.9 L324.5 386.6 L325.2 387.2 L325.9 387.9 L326.6 388.5 L327.3 389.1 L328.0 389.7 L328.8 390.2 L329.6 390.7 L330.4 391.2 L331.2 391.6 L332.1 392.1 L332.9 392.5 L333.8 392.8 L334.7 393.2 L335.6 393.5 L336.5 393.8 L337.5 394.1 L338.4 394.3 L339.4 394.5 L340.4 394.7 L341.4 394.9 L342.4 395.1 L343.4 395.2 L344.4 395.3 L345.4 395.4 L346.5 395.5 L347.5 395.6 L348.6 395.6 L349.6 395.7 L350.7 395.7 L351.7 395.7 L352.8 395.7 L353.8 395.7 L354.9 395.7 L356.0 395.7 L357.0 395.7 L358.1 395.6 L359.1 395.6 L360.2 395.6 L361.2 395.6 L362.3 395.5 L363.3 395.5 L364.3 395.5 L365.4 395.5 L366.4 395.5 L367.4 395.5 L368.4 395.5 L369.4 395.5 L370.5 395.5 L371.5 395.5 L372.5 395.5 L373.5 395.5 L374.5 395.5 L375.5 395.5 L376.5 395.5 L377.5 395.5 L378.5 395.5 L379.5 395.5 L380.4 395.5 L381.4 395.5 L382.4 395.5 L383.4 395.5 L384.4 395.5 L385.4 395.5 L386.3 395.6 L387.3 395.6 L388.3 395.6 L389.3 395.6 L390.2 395.6 L391.2 395.6 L392.2 395.6 L393.2 395.7 L394.1 395.7 L395.1 395.7 L396.1 395.7 L397.1 395.7 L398.0 395.7 L399.0 395.7 L400.0 395.7 L401.0 395.8 L401.9 395.8 L402.9 395.8 L403.9 395.8 L404.9 395.8 L405.9 395.8 L406.8 395.8 L407.8 395.8 L408.8 395.8 L409.8 395.9 L410.8 395.9 L411.8 395.9 L412.8 395.9 L413.7 395.9 L414.7 395.9 L415.7 395.9 L416.7 395.9 L417.7 395.9 L418.7 395.9 L419.7 395.9 L420.7 395.9 L421.7 395.9 L422.7 395.9 L423.6 395.9 L424.6 395.9 L425.6 395.9 L426.6 396.0 L427.6 396.0 L428.6 396.0 L429.6 396.0 L430.6 396.0 L431.6 396.0 L432.6 396.0 L433.6 396.0 L434.6 396.0 L435.6 396.0 L436.6 396.0 L437.6 396.0 L438.6 396.0 L439.6 396.0 L440.6 396.0 L441.6 396.0 L442.6 396.0 L443.6 396.0 L444.6 396.0 L445.6 396.0 L446.6 396.0 L447.6 396.0 L448.6 396.0 L449.6 396.0 L450.6 396.0 L451.6 395.9 L452.7 395.9 L453.7 395.9 L454.7 395.9 L455.7 395.9 L456.7 395.9 L457.7 395.9 L458.7 395.9 L459.7 395.9 L460.7 395.9 L461.7 395.9 L462.7 395.9 L463.7 395.9 L464.7 395.9 L465.7 395.9 L466.7 395.9 L467.8 395.9 L468.8 395.9 L469.8 395.9 L470.8 395.9 L471.8 395.9 L472.8 395.9 L473.8 395.9 L474.8 395.9 L475.8 395.9 L476.8 395.9 L477.8 395.9 L478.8 395.9 L479.9 395.8 L480.9 395.8 L481.9 395.8 L482.9 395.8 L483.9 395.8 L484.9 395.8 L485.9 395.8 L486.9 395.8 L487.9 395.8 L488.9 395.8 L489.9 395.8 L490.9 395.8 L491.9 395.8 L493.0 395.8 L494.0 395.8 L495.0 395.8 L496.0 395.8 L497.0 395.8 L498.0 395.8 L499.0 395.8 L500.0 395.8 L501.0 395.8 L502.0 395.8 L503.0 395.8 L504.0 395.8 L505.0 395.8 L506.0 395.8 L507.0 395.8 L508.0 395.8 L509.0 395.8 L510.0 395.8 L511.0 395.7 L512.0 395.7 L513.1 395.7 L514.1 395.7 L515.1 395.7 L516.1 395.7 L517.1 395.7 L518.1 395.7 L519.1 395.7 L520.1 395.7 L521.1 395.7 L522.1 395.7 L523.1 395.7 L524.1 395.7 L525.1 395.7 L526.1 395.7 L527.1 395.7 L528.1 395.7 L529.1 395.7 L530.1 395.7 L531.1 395.7 L532.1 395.7 L533.1 395.7 L534.1 395.7 L535.1 395.7 L536.1 395.7 L537.1 395.7 L538.1 395.7 L539.1 395.7 L540.1 395.7 L541.1 395.7 L542.1 395.7 L543.1 395.7 L544.1 395.7 L545.1 395.7 L546.1 395.7 L547.1 395.7 L548.1 395.7 L549.1 395.7 L550.1 395.7 L551.1 395.7 L552.1 395.7 L553.1 395.7 L554.1 395.7 L555.1 395.7 L556.1 395.7 L557.1 395.7 L558.1 395.7 L559.0 395.7 L560.0 395.7 L561.0 395.7 L562.0 395.7 L563.0 395.7 L564.0 395.7 L565.0 395.8 L566.0 395.8 L567.0 395.8 L568.0 395.8 L569.0 395.8 L570.0 395.8 L571.0 395.8 L572.0 395.8 L573.0 395.8 L574.0 395.8 L575.0 395.8 L576.0 395.8 L577.0 395.8 L578.0 395.8 L579.0 395.8 L580.0 395.8 L581.0 395.8 L582.0 395.8 L583.0 395.8 L584.0 395.8 L585.0 395.8 L586.0 395.8 L587.0 395.8 L588.0 395.8 L589.0 395.8 L590.0 395.8 L591.0 395.8 L591.9 395.8 L592.9 395.8 L593.9 395.8 L594.9 395.8 L595.9 395.8 L596.9 395.8 L597.9 395.8 L598.9 395.8 L599.9 395.8 L600.9 395.8 L601.9 395.8 L602.9 395.8 L603.9 395.8 L604.9 395.8 L605.9 395.8 L606.9 395.8 L607.9 395.8 L608.9 395.8 L609.9 395.8 L610.9 395.8 L611.9 395.8 L612.9 395.8 L613.9 395.8 L614.9 395.8 L615.9 395.8 L616.9 395.8 L617.9 395.8 L618.9 395.8 L619.9 395.8 L620.9 395.8 L621.9 395.8 L622.9 395.8 L623.9 395.8 L624.8 395.8 L625.8 395.8 L626.8 395.8 L627.8 395.8 L628.8 395.8 L629.8 395.8 L630.8 395.8 L631.8 395.8 L632.8 395.9 L633.8 395.9 L634.8 395.9 L635.8 395.9 L636.8 395.9 L637.8 395.9 L638.8 395.9 L639.8 395.9 L640.8 395.9 L641.8 395.9 L642.8 395.9 L643.8 395.9 L644.8 395.9 L645.8 395.9 L646.8 395.9 L647.8 395.9 L648.8 395.9 L649.8 395.9 L650.8 395.9 L651.8 395.9 L652.8 395.9 L653.8 395.9 L654.8 395.9 L655.8 395.9 L656.8 395.9 L657.8 395.9 L658.8 395.9 L659.8 395.9 L660.8 395.8 L661.8 395.8 L662.8 395.8 L663.8 395.8 L664.8 395.8 L665.8 395.8 L666.8 395.8 L667.9 395.8 L668.9 395.8 L669.9 395.8 L670.9 395.8 L671.9 395.8 L672.9 395.8 L673.9 395.8 L674.9 395.8 L675.9 395.8 L676.9 395.8 L677.9 395.8 L678.9 395.8 L679.9 395.8 L680.9 395.8 L681.9 395.8 L682.9 395.8 L683.9 395.8 L684.9 395.8 L685.9 395.8" stroke="#00f" stroke-width="3.3" fill="none" stroke-linejoin="round" stroke-linecap="round"/>
<g stroke="#000" stroke-width="1.8" fill="none">
<line x1="83.8" y1="0.5" x2="682.8" y2="0.5"/>
<line x1="88.8" y1="0" x2="88.8" y2="396.85"/>
<line x1="80.8" y1="395.85" x2="682.8" y2="395.85"/>
<line x1="681.8" y1="0" x2="681.8" y2="399.85" stroke-width="1.6"/>
<line x1="80.80" y1="395.85" x2="88.80" y2="395.85"/>
<line x1="83.80" y1="369.49" x2="88.80" y2="369.49"/>
<line x1="80.80" y1="343.13" x2="88.80" y2="343.13"/>
<line x1="83.80" y1="316.77" x2="88.80" y2="316.77"/>
<line x1="80.80" y1="290.41" x2="88.80" y2="290.41"/>
<line x1="83.80" y1="264.05" x2="88.80" y2="264.05"/>
<line x1="80.80" y1="237.69" x2="88.80" y2="237.69"/>
<line x1="83.80" y1="211.33" x2="88.80" y2="211.33"/>
<line x1="80.80" y1="184.97" x2="88.80" y2="184.97"/>
<line x1="83.80" y1="158.61" x2="88.80" y2="158.61"/>
<line x1="80.80" y1="132.25" x2="88.80" y2="132.25"/>
<line x1="83.80" y1="105.89" x2="88.80" y2="105.89"/>
<line x1="80.80" y1="79.53" x2="88.80" y2="79.53"/>
<line x1="83.80" y1="53.17" x2="88.80" y2="53.17"/>
<line x1="80.80" y1="26.81" x2="88.80" y2="26.81"/>
<line x1="83.80" y1="0.45" x2="88.80" y2="0.45"/>
<line x1="171.00" y1="395.85" x2="171.00" y2="402.85"/>
<line x1="341.15" y1="395.85" x2="341.15" y2="399.85"/>
<line x1="511.30" y1="395.85" x2="511.30" y2="402.85"/>
</g>
<g font-size="17.8" fill="#000">
<text x="78.7" y="402.15" text-anchor="end" textLength="25.6" lengthAdjust="spacingAndGlyphs">0.0</text>
<text x="78.7" y="349.43" text-anchor="end" textLength="25.6" lengthAdjust="spacingAndGlyphs">0.2</text>
<text x="78.7" y="296.71" text-anchor="end" textLength="25.6" lengthAdjust="spacingAndGlyphs">0.4</text>
<text x="78.7" y="243.99" text-anchor="end" textLength="25.6" lengthAdjust="spacingAndGlyphs">0.6</text>
<text x="78.7" y="191.27" text-anchor="end" textLength="25.6" lengthAdjust="spacingAndGlyphs">0.8</text>
<text x="78.7" y="138.55" text-anchor="end" textLength="25.6" lengthAdjust="spacingAndGlyphs">1.0</text>
<text x="78.7" y="85.83" text-anchor="end" textLength="25.6" lengthAdjust="spacingAndGlyphs">1.2</text>
<text x="78.7" y="33.11" text-anchor="end" textLength="25.6" lengthAdjust="spacingAndGlyphs">1.4</text>
<text x="171" y="418.9" text-anchor="middle" textLength="30.6" lengthAdjust="spacingAndGlyphs">250</text>
<text x="511.3" y="418.9" text-anchor="middle" textLength="30.6" lengthAdjust="spacingAndGlyphs">300</text>
</g>
<!-- y title -->
<rect x="5.3" y="120.4" width="38.4" height="195.3" fill="#000"/>
<rect x="0.7" y="115.7" width="37" height="194" fill="#fff" stroke="#000" stroke-width="1.4"/>
<text transform="translate(28.2,290.7) rotate(-90)" font-size="25.5" font-weight="bold" textLength="154.3" lengthAdjust="spacingAndGlyphs">Intensity (a,u)</text>
<!-- x title -->
<rect x="270.1" y="441.6" width="240.7" height="40" fill="#000"/>
<rect x="265.5" y="437.3" width="239.3" height="33.4" fill="#fff" stroke="#000" stroke-width="1.4"/>
<text x="289.2" y="461.9" font-size="24.1" font-weight="bold" textLength="192.2" lengthAdjust="spacingAndGlyphs">Wavelengh (nm)</text>
<!-- legend -->
<rect x="508.2" y="29.1" width="155.8" height="117.6" fill="#000"/>
<rect x="503.6" y="24.5" width="154.5" height="116.3" fill="#fff" stroke="#000" stroke-width="1.4"/>
<g stroke-width="3.2" stroke-linecap="round">
<line x1="516.5" y1="47.1" x2="555.7" y2="47.1" stroke="#000"/>
<line x1="516.5" y1="72.3" x2="555.7" y2="72.3" stroke="#f00"/>
<line x1="516.5" y1="97.0" x2="555.7" y2="97.0" stroke="#0f0"/>
<line x1="516.5" y1="121.7" x2="555.7" y2="121.7" stroke="#00f"/>
</g>
<g font-size="20">
<text x="561.6" y="52.9" textLength="84.3" lengthAdjust="spacingAndGlyphs"><tspan font-weight="bold">CX</tspan><tspan font-size="19" stroke="#000" stroke-width="0.8">[4]</tspan><tspan font-weight="bold">-1</tspan><tspan font-size="18.5" dy="0.8" stroke="#000" stroke-width="0.5">β</tspan></text>
<text x="561.6" y="78.0" textLength="84.3" lengthAdjust="spacingAndGlyphs"><tspan font-weight="bold">CX</tspan><tspan font-size="19" stroke="#000" stroke-width="0.8">[4]</tspan><tspan font-weight="bold">-2</tspan><tspan font-size="18.5" dy="0.8" stroke="#000" stroke-width="0.5">β</tspan></text>
<text x="561.6" y="102.8" textLength="84.3" lengthAdjust="spacingAndGlyphs"><tspan font-weight="bold">CX</tspan><tspan font-size="19" stroke="#000" stroke-width="0.8">[4]</tspan><tspan font-weight="bold">-3</tspan><tspan font-size="18.5" dy="0.8" stroke="#000" stroke-width="0.5">β</tspan></text>
<text x="561.6" y="127.5" textLength="84.3" lengthAdjust="spacingAndGlyphs"><tspan font-weight="bold">CX</tspan><tspan font-size="19" stroke="#000" stroke-width="0.8">[4]</tspan><tspan font-weight="bold">-4</tspan><tspan font-size="18.5" dy="0.8" stroke="#000" stroke-width="0.5">β</tspan></text>
</g>
</svg>
</body></html>
